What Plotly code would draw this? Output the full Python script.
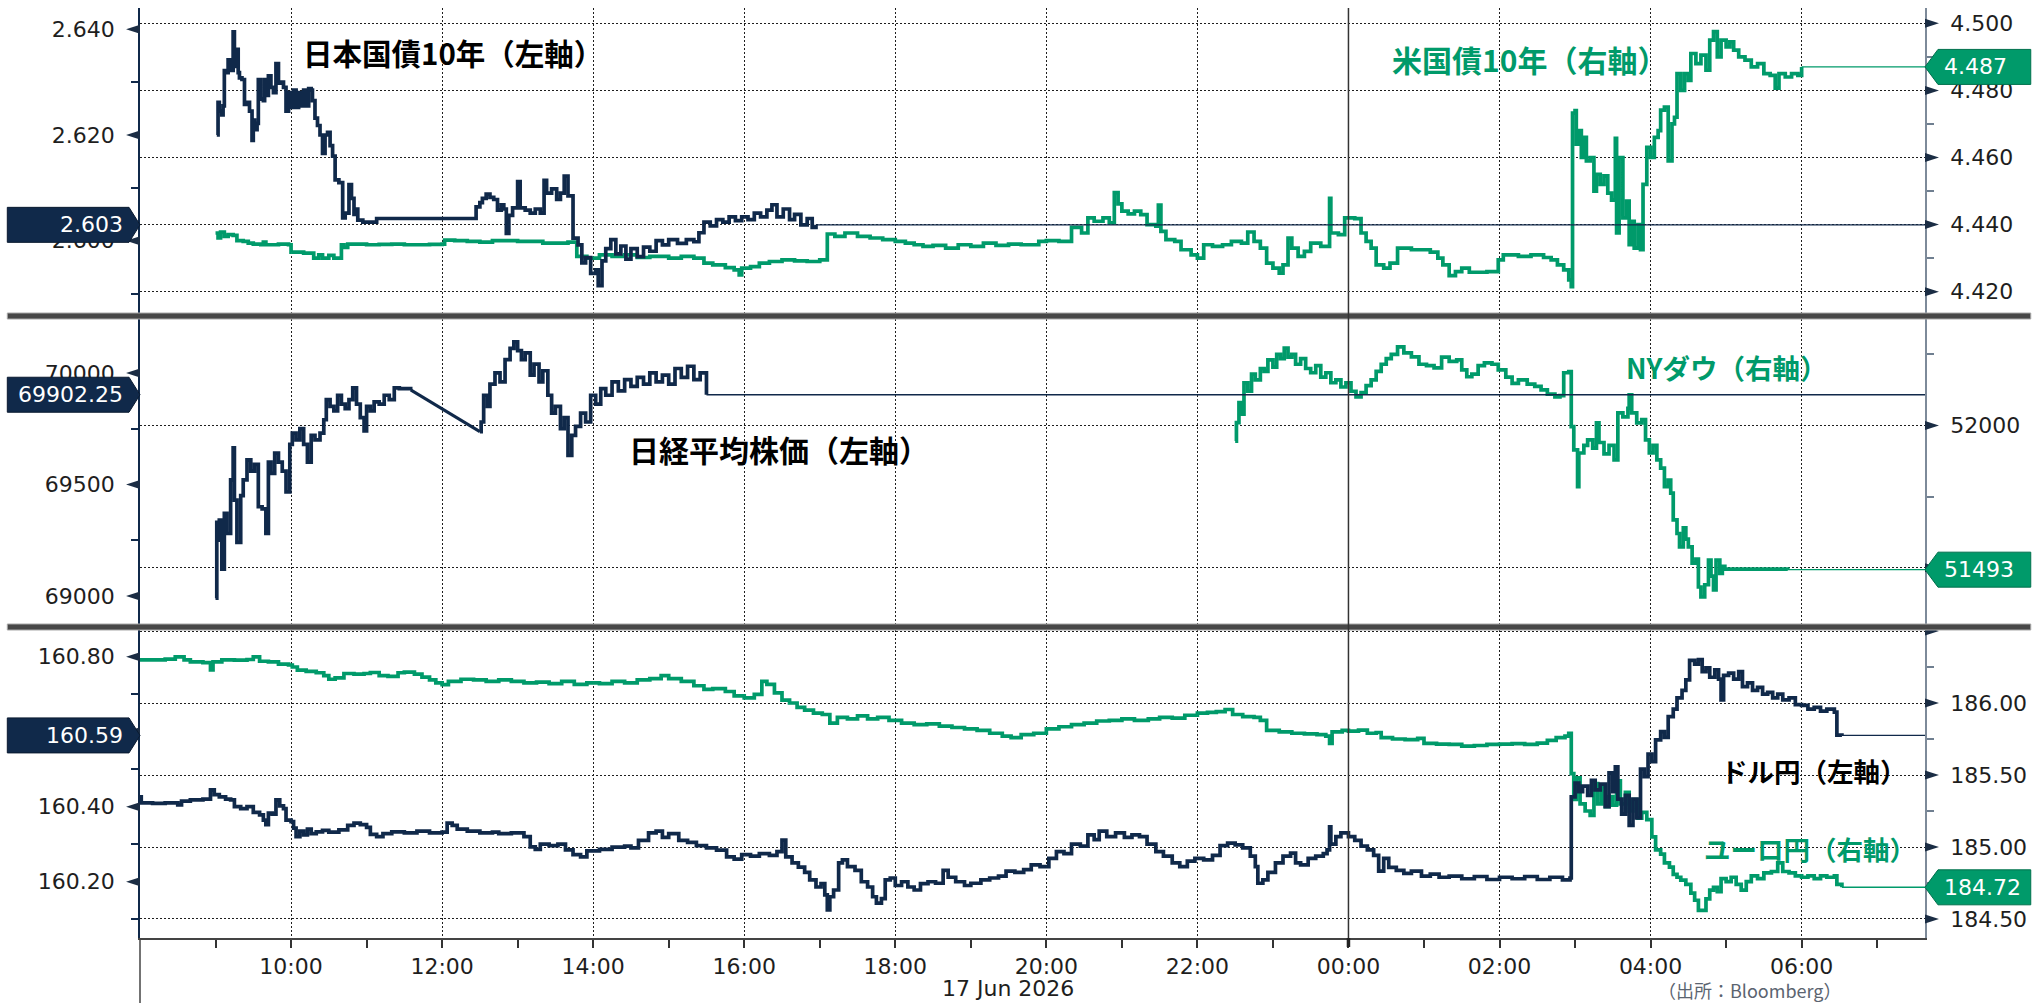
import plotly.graph_objects as go
from datetime import datetime, timedelta

# ---------------- data ----------------
JGB_TIME = [
 "09:01","09:02","09:03","09:05","09:06","09:07","09:09","09:10","09:12","09:14",
 "09:15","09:16","09:18","09:19","09:21","09:23","09:25","09:27","09:29","09:30",
 "09:31","09:33","09:34","09:36","09:38","09:39","09:41","09:42","09:44","09:46",
 "09:48","09:50","09:52","09:54","09:56","09:58","10:00","10:02","10:04","10:06",
 "10:08","10:10","10:12","10:14","10:16","10:17","10:19","10:21","10:23","10:25",
 "10:27","10:29","10:31","10:33","10:35","10:38","10:41","10:43","10:46","10:48",
 "10:50","10:52","10:53","10:57","11:08","12:25","12:27","12:30","12:32","12:35",
 "12:38","12:41","12:44","12:47","12:49","12:51","12:53","12:56","13:00","13:02",
 "13:06","13:10","13:14","13:18","13:21","13:23","13:27","13:31","13:34","13:37",
 "13:40","13:44","13:48","13:51","13:54","13:58","14:02","14:04","14:07","14:10",
 "14:14","14:18","14:22","14:26","14:30","14:35","14:40","14:45","14:50","14:55",
 "15:00","15:07","15:14","15:20","15:24","15:28","15:33","15:38","15:43","15:48",
 "15:53","15:58","16:03","16:08","16:13","16:18","16:22","16:26","16:31","16:36",
 "16:40","16:45","16:50","16:54","16:57"]
JGB_YIELD = [
 2.6200,2.6262,2.6245,2.6238,2.6255,2.6322,2.6318,2.6342,2.6322,2.6395,
 2.6330,2.6362,2.6318,2.6308,2.6305,2.6258,2.6262,2.6245,2.6190,2.6228,
 2.6210,2.6222,2.6305,2.6268,2.6265,2.6305,2.6275,2.6312,2.6290,2.6280,
 2.6335,2.6298,2.6300,2.6290,2.6245,2.6280,2.6252,2.6285,2.6252,2.6280,
 2.6255,2.6285,2.6255,2.6288,2.6285,2.6265,2.6232,2.6218,2.6200,2.6165,
 2.6200,2.6205,2.6180,2.6160,2.6115,2.6110,2.6043,2.6052,2.6106,2.6080,
 2.6050,2.6060,2.6039,2.6035,2.6042,2.6042,2.6064,2.6072,2.6080,2.6088,
 2.6082,2.6078,2.6058,2.6068,2.6060,2.6014,2.6048,2.6062,2.6112,2.6062,
 2.6058,2.6052,2.6060,2.6052,2.6114,2.6090,2.6098,2.6078,2.6090,2.6122,
 2.6085,2.6005,2.5992,2.5958,2.5968,2.5938,2.5945,2.5915,2.5962,2.5985,
 2.6002,2.5975,2.5990,2.5965,2.5985,2.5970,2.5988,2.5980,2.6000,2.5992,
 2.6002,2.5995,2.6002,2.5998,2.6015,2.6035,2.6028,2.6040,2.6035,2.6045,
 2.6038,2.6045,2.6040,2.6052,2.6045,2.6058,2.6068,2.6045,2.6060,2.6040,
 2.6050,2.6030,2.6042,2.6025,2.6030]

UST_TIME = [
 "09:00","09:02","09:04","09:07","09:10","09:14","09:17","09:22","09:26","09:30",
 "09:36","09:38","09:40","09:50","09:58","10:00","10:10","10:18","10:22","10:25",
 "10:30","10:34","10:40","10:42","10:45","10:52","11:00","11:10","11:20","11:30",
 "11:50","12:00","12:02","12:10","12:20","12:30","12:40","13:00","13:20","13:40",
 "13:47","13:55","14:05","14:15","14:25","14:35","14:45","15:00","15:10","15:20",
 "15:28","15:35","15:45","15:52","15:56","15:58","16:05","16:12","16:20","16:30",
 "16:40","16:50","17:00","17:06","17:12","17:20","17:30","17:40","17:50","18:00",
 "18:08","18:15","18:22","18:30","18:40","18:50","19:00","19:10","19:20","19:30",
 "19:40","19:54","20:00","20:10","20:20","20:28","20:33","20:38","20:45","20:50",
 "20:54","20:57","21:00","21:05","21:10","21:15","21:20","21:27","21:29","21:31",
 "21:35","21:42","21:47","21:55","22:00","22:05","22:12","22:20","22:27","22:35",
 "22:40","22:45","22:50","22:55","23:00","23:05","23:08","23:12","23:15","23:20",
 "23:25","23:30","23:38","23:45","23:46","23:52","23:57","00:05","00:10","00:14",
 "00:18","00:22","00:28","00:33","00:39","00:50","01:05","01:11","01:15","01:20",
 "01:25","01:30","01:36","01:50","01:59","02:03","02:15","02:25","02:35","02:41",
 "02:46","02:51","02:55","02:57","02:58","03:00","03:01","03:03","03:05","03:07",
 "03:09","03:12","03:15","03:17","03:20","03:23","03:26","03:29","03:32","03:33",
 "03:35","03:38","03:41","03:43","03:45","03:47","03:50","03:52","03:54","03:57",
 "04:00","04:03","04:06","04:08","04:11","04:14","04:17","04:19","04:21","04:24",
 "04:27","04:30","04:32","04:36","04:40","04:44","04:47","04:50","04:53","04:56",
 "05:00","05:03","05:06","05:10","05:15","05:20","05:25","05:30","05:35","05:39",
 "05:42","05:47","05:52","05:57","06:00"]
UST_YIELD = [
 4.4375,4.4360,4.4378,4.4365,4.4370,4.4368,4.4352,4.4350,4.4345,4.4342,
 4.4340,4.4348,4.4340,4.4342,4.4340,4.4318,4.4315,4.4300,4.4310,4.4300,
 4.4308,4.4300,4.4340,4.4332,4.4342,4.4342,4.4340,4.4341,4.4342,4.4340,
 4.4341,4.4342,4.4354,4.4352,4.4350,4.4348,4.4352,4.4350,4.4345,4.4348,
 4.4305,4.4300,4.4310,4.4305,4.4310,4.4302,4.4305,4.4300,4.4305,4.4300,
 4.4285,4.4280,4.4272,4.4265,4.4250,4.4270,4.4275,4.4285,4.4290,4.4295,
 4.4292,4.4290,4.4295,4.4372,4.4365,4.4375,4.4365,4.4360,4.4355,4.4350,
 4.4345,4.4340,4.4335,4.4338,4.4330,4.4340,4.4335,4.4345,4.4338,4.4342,
 4.4340,4.4350,4.4352,4.4350,4.4392,4.4375,4.4420,4.4410,4.4420,4.4405,
 4.4495,4.4462,4.4440,4.4432,4.4440,4.4430,4.4400,4.4395,4.4458,4.4380,
 4.4355,4.4350,4.4325,4.4310,4.4300,4.4340,4.4335,4.4340,4.4350,4.4345,
 4.4378,4.4350,4.4330,4.4285,4.4270,4.4255,4.4280,4.4360,4.4330,4.4305,
 4.4320,4.4345,4.4335,4.4478,4.4375,4.4370,4.4420,4.4418,4.4375,4.4350,
 4.4330,4.4280,4.4270,4.4285,4.4330,4.4325,4.4318,4.4300,4.4280,4.4248,
 4.4260,4.4270,4.4258,4.4260,4.4295,4.4310,4.4305,4.4310,4.4302,4.4295,
 4.4280,4.4265,4.4235,4.4215,4.4732,4.4740,4.4640,4.4680,4.4600,4.4660,
 4.4590,4.4600,4.4500,4.4550,4.4520,4.4545,4.4494,4.4473,4.4657,4.4375,
 4.4600,4.4420,4.4470,4.4340,4.4410,4.4330,4.4400,4.4325,4.4520,4.4630,
 4.4600,4.4660,4.4680,4.4741,4.4750,4.4590,4.4700,4.4720,4.4850,4.4800,
 4.4850,4.4830,4.4910,4.4880,4.4905,4.4860,4.4950,4.4975,4.4900,4.4950,
 4.4930,4.4945,4.4920,4.4900,4.4890,4.4870,4.4880,4.4850,4.4845,4.4807,
 4.4850,4.4840,4.4850,4.4845,4.4870]

NIKKEI_AM_TIME = [
 "09:00","09:01","09:02","09:03","09:05","09:07","09:09","09:12","09:14","09:15",
 "09:17","09:20","09:22","09:25","09:28","09:31","09:34","09:37","09:40","09:42",
 "09:44","09:47","09:50","09:53","09:56","09:59","10:01","10:04","10:07","10:10",
 "10:13","10:16","10:19","10:23","10:26","10:28","10:31","10:34","10:37","10:40",
 "10:43","10:46","10:49","10:52","10:55","10:58","11:00","11:03","11:06","11:10",
 "11:14","11:18","11:22","11:26","11:35"]
NIKKEI_AM = [
 68990,69330,69250,69340,69120,69370,69280,69520,69664,69430,
 69240,69450,69520,69610,69560,69590,69400,69390,69280,69600,
 69550,69640,69600,69560,69466,69680,69730,69700,69750,69680,
 69600,69720,69700,69730,69790,69880,69850,69830,69900,69860,
 69840,69880,69933,69860,69800,69740,69850,69830,69870,69860,
 69900,69880,69933,69930,69924]
NIKKEI_PM_TIME = [
 "12:30","12:31","12:33","12:36","12:38","12:42","12:46","12:50","12:54","12:57",
 "13:00","13:03","13:06","13:10","13:13","13:17","13:20","13:24","13:27","13:30",
 "13:34","13:37","13:40","13:43","13:46","13:50","13:54","13:58","14:02","14:06",
 "14:10","14:15","14:20","14:25","14:30","14:35","14:40","14:45","14:50","14:55",
 "15:00","15:05","15:10","15:15","15:20","15:25","15:30"]
NIKKEI_PM = [
 69737,69780,69900,69850,69950,70000,69960,70060,70110,70140,
 70100,70060,70090,69990,70040,69960,70010,69900,69820,69850,
 69750,69800,69630,69720,69760,69820,69780,69900,69860,69930,
 69900,69960,69920,69970,69940,69980,69950,70000,69960,69990,
 69950,70020,69980,70030,69970,70000,69902.25]

DOW_TIME = [
 "22:30","22:31","22:33","22:35","22:37","22:40","22:43","22:46","22:50","22:53",
 "22:56","23:00","23:03","23:06","23:09","23:12","23:15","23:18","23:22","23:26",
 "23:30","23:34","23:38","23:42","23:46","23:50","23:54","23:58","00:02","00:06",
 "00:10","00:14","00:18","00:22","00:26","00:30","00:34","00:39","00:44","00:50",
 "00:56","01:02","01:08","01:14","01:20","01:26","01:30","01:34","01:38","01:43",
 "01:48","01:54","01:59","02:05","02:10","02:15","02:22","02:28","02:33","02:38",
 "02:44","02:48","02:51","02:55","02:57","02:59","03:02","03:03","03:07","03:10",
 "03:14","03:17","03:19","03:23","03:27","03:31","03:34","03:38","03:42","03:43",
 "03:45","03:49","03:53","03:56","03:59","04:02","04:05","04:08","04:11","04:14",
 "04:16","04:18","04:21","04:23","04:26","04:28","04:30","04:33","04:36","04:38",
 "04:40","04:43","04:46","04:48","04:50","04:52","04:55","04:57","04:59","05:49"]
DOW = [
 51945,52010,52080,52040,52150,52120,52180,52160,52200,52190,
 52230,52205,52250,52235,52272,52240,52250,52215,52235,52200,
 52185,52210,52170,52185,52150,52160,52135,52150,52120,52100,
 52115,52140,52160,52190,52215,52235,52250,52276,52255,52241,
 52215,52210,52202,52240,52225,52230,52195,52171,52180,52210,
 52220,52215,52195,52170,52148,52160,52145,52137,52125,52110,
 52100,52105,52185,52189,51996,51914,51785,51903,51930,51949,
 51920,52009,51940,51900,51930,51879,52044,52030,52060,52107,
 52044,52009,52020,51949,51903,51930,51879,51850,51785,51808,
 51762,51668,51620,51573,51640,51600,51573,51516,51530,51432,
 51397,51440,51527,51470,51422,51527,51480,51505,51495,51493]

USDJPY_TIME = [
 "08:00","08:01","08:10","08:20","08:30","08:33","08:40","08:50","08:56","08:59",
 "09:03","09:08","09:12","09:15","09:20","09:25","09:30","09:35","09:38","09:40",
 "09:42","09:45","09:48","09:51","09:54","09:56","10:00","10:02","10:04","10:07",
 "10:10","10:13","10:16","10:20","10:25","10:30","10:38","10:45","10:50","10:55",
 "11:00","11:03","11:08","11:13","11:20","11:30","11:40","11:50","12:00","12:04",
 "12:08","12:12","12:20","12:30","12:40","12:45","12:55","13:05","13:10","13:14",
 "13:18","13:25","13:32","13:38","13:44","13:50","13:55","14:05","14:15","14:25",
 "14:30","14:36","14:44","14:50","14:55","15:00","15:08","15:15","15:22","15:30",
 "15:38","15:46","15:52","15:58","16:05","16:12","16:20","16:26","16:30","16:33",
 "16:38","16:43","16:48","16:52","16:57","17:01","17:04","17:06","17:08","17:11",
 "17:15","17:18","17:22","17:28","17:33","17:38","17:42","17:45","17:49","17:52",
 "17:56","18:00","18:05","18:10","18:15","18:20","18:26","18:32","18:38","18:42",
 "18:48","18:55","19:00","19:08","19:15","19:22","19:28","19:35","19:42","19:48",
 "19:55","20:02","20:08","20:14","20:20","20:27","20:33","20:38","20:42","20:48",
 "20:55","21:02","21:08","21:14","21:20","21:27","21:33","21:40","21:46","21:52",
 "21:58","22:05","22:12","22:18","22:24","22:30","22:36","22:42","22:46","22:48",
 "22:52","22:56","23:02","23:08","23:14","23:18","23:22","23:28","23:34","23:40",
 "23:43","23:45","23:46","23:50","23:54","00:00","00:05","00:10","00:15","00:20",
 "00:24","00:28","00:32","00:38","00:44","00:50","00:58","01:05","01:12","01:20",
 "01:30","01:40","01:50","02:00","02:10","02:20","02:30","02:40","02:50","02:56",
 "02:57","03:00","03:03","03:06","03:10","03:13","03:16","03:20","03:24","03:27",
 "03:30","03:32","03:34","03:37","03:40","03:43","03:46","03:49","03:52","03:55",
 "03:58","04:01","04:04","04:08","04:11","04:14","04:18","04:21","04:25","04:28",
 "04:31","04:35","04:38","04:41","04:44","04:47","04:51","04:54","04:56","04:58",
 "05:02","05:06","05:10","05:13","05:17","05:21","05:25","05:29","05:33","05:37",
 "05:41","05:45","05:50","05:55","06:00","06:05","06:10","06:15","06:20","06:26",
 "06:28","06:32"]
USDJPY = [
 160.426,160.410,160.409,160.410,160.405,160.415,160.418,160.420,160.445,160.432,
 160.426,160.420,160.418,160.400,160.395,160.400,160.385,160.378,160.364,160.352,
 160.383,160.380,160.418,160.402,160.395,160.364,160.360,160.343,160.320,160.335,
 160.325,160.340,160.328,160.333,160.337,160.332,160.338,160.350,160.356,160.352,
 160.345,160.326,160.320,160.328,160.333,160.330,160.335,160.330,160.332,160.356,
 160.350,160.340,160.335,160.330,160.332,160.328,160.330,160.320,160.293,160.286,
 160.300,160.296,160.300,160.285,160.272,160.266,160.282,160.286,160.292,160.295,
 160.290,160.310,160.330,160.335,160.318,160.328,160.310,160.305,160.296,160.290,
 160.284,160.266,160.260,160.272,160.268,160.275,160.270,160.280,160.311,160.266,
 160.250,160.239,160.225,160.205,160.186,160.195,160.165,160.125,160.160,160.178,
 160.250,160.258,160.240,160.230,160.200,160.186,160.160,160.143,160.155,160.205,
 160.210,160.190,160.200,160.186,160.178,160.195,160.200,160.196,160.230,160.212,
 160.200,160.190,160.196,160.205,160.210,160.215,160.228,160.225,160.232,160.245,
 160.240,160.262,160.280,160.275,160.300,160.295,160.325,160.312,160.335,160.320,
 160.330,160.318,160.325,160.320,160.300,160.280,160.268,160.250,160.240,160.255,
 160.262,160.258,160.270,160.296,160.303,160.298,160.290,160.268,160.240,160.196,
 160.205,160.225,160.250,160.268,160.276,160.250,160.245,160.262,160.268,160.275,
 160.285,160.346,160.300,160.320,160.330,160.320,160.310,160.295,160.285,160.270,
 160.228,160.262,160.238,160.230,160.222,160.228,160.215,160.220,160.212,160.215,
 160.208,160.214,160.206,160.212,160.208,160.214,160.206,160.212,160.205,160.210,
 160.426,160.463,160.440,160.455,160.430,160.470,160.445,160.460,160.400,160.490,
 160.440,160.506,160.420,160.380,160.430,160.350,160.420,160.370,160.500,160.480,
 160.540,160.520,160.578,160.600,160.585,160.640,160.660,160.690,160.710,160.738,
 160.790,160.780,160.792,160.760,160.770,160.745,160.765,160.740,160.685,160.750,
 160.756,160.740,160.760,160.720,160.730,160.710,160.718,160.700,160.705,160.690,
 160.700,160.685,160.690,160.672,160.670,160.660,160.665,160.655,160.660,160.652,
 160.591,160.590]

EURJPY_TIME = [
 "08:00","08:10","08:20","08:28","08:35","08:40","08:50","08:56","08:58","09:05",
 "09:15","09:25","09:30","09:35","09:42","09:50","09:58","10:01","10:05","10:12",
 "10:20","10:26","10:30","10:35","10:42","10:50","10:58","11:03","11:10","11:17",
 "11:25","11:30","11:38","11:44","11:50","11:55","12:00","12:05","12:15","12:25",
 "12:35","12:45","12:55","13:05","13:15","13:25","13:35","13:45","13:55","14:05",
 "14:15","14:25","14:35","14:45","14:54","15:00","15:10","15:20","15:28","15:35",
 "15:45","15:52","16:00","16:08","16:14","16:18","16:24","16:30","16:36","16:42",
 "16:48","16:55","17:02","17:08","17:14","17:22","17:30","17:38","17:46","17:55",
 "18:05","18:15","18:25","18:35","18:45","18:55","19:05","19:15","19:25","19:32",
 "19:40","19:50","20:00","20:10","20:20","20:30","20:40","20:50","21:00","21:10",
 "21:21","21:30","21:40","21:50","22:00","22:08","22:15","22:22","22:28","22:36",
 "22:45","22:50","22:55","23:05","23:15","23:25","23:35","23:42","23:45","23:47",
 "23:55","00:00","00:08","00:15","00:22","00:26","00:35","00:45","00:55","01:00",
 "01:10","01:20","01:30","01:40","01:50","02:00","02:10","02:20","02:30","02:38",
 "02:45","02:52","02:55","02:57","02:59","03:01","03:04","03:08","03:12","03:15",
 "03:18","03:21","03:24","03:27","03:30","03:33","03:36","03:40","03:43","03:46",
 "03:50","03:53","03:57","04:01","04:04","04:08","04:11","04:15","04:18","04:21",
 "04:24","04:28","04:32","04:35","04:38","04:42","04:44","04:47","04:50","04:53",
 "04:56","05:00","05:04","05:08","05:12","05:16","05:20","05:25","05:30","05:36",
 "05:41","05:45","05:50","05:55","06:00","06:05","06:10","06:15","06:20","06:26",
 "06:28","06:32"]
EURJPY = [
 186.299,186.300,186.305,186.320,186.300,186.285,186.280,186.230,186.285,186.300,
 186.298,186.302,186.320,186.290,186.285,186.270,186.264,186.250,186.229,186.220,
 186.210,186.190,186.165,186.175,186.205,186.200,186.205,186.212,186.190,186.185,
 186.210,186.215,186.200,186.180,186.160,186.140,186.128,186.150,186.165,186.160,
 186.150,186.160,186.150,186.140,186.145,186.135,186.150,186.130,186.140,186.135,
 186.150,186.140,186.160,186.170,186.190,186.170,186.150,186.120,186.095,186.100,
 186.080,186.050,186.035,186.060,186.150,186.130,186.070,186.020,186.000,185.970,
 185.950,185.930,185.920,185.860,185.900,185.890,185.910,185.890,185.900,185.880,
 185.860,185.850,185.855,185.840,185.830,185.820,185.810,185.790,185.770,185.760,
 185.780,185.790,185.820,185.835,185.850,185.860,185.875,185.880,185.890,185.880,
 185.890,185.900,185.895,185.915,185.930,185.935,185.940,185.955,185.920,185.905,
 185.900,185.880,185.810,185.800,185.790,185.785,185.780,185.770,185.720,185.800,
 185.810,185.805,185.812,185.790,185.795,185.760,185.750,185.745,185.755,185.720,
 185.715,185.712,185.700,185.705,185.712,185.715,185.718,185.712,185.722,185.740,
 185.760,185.770,185.790,185.510,185.330,185.480,185.300,185.250,185.220,185.440,
 185.300,185.420,185.280,185.350,185.290,185.460,185.300,185.380,185.250,185.330,
 185.200,185.240,185.190,185.070,184.980,184.950,184.890,184.860,184.810,184.790,
 184.770,184.740,184.680,184.630,184.560,184.560,184.640,184.700,184.720,184.690,
 184.780,184.760,184.790,184.740,184.700,184.760,184.800,184.780,184.820,184.830,
 184.890,184.830,184.820,184.800,184.790,184.800,184.780,184.800,184.790,184.800,
 184.740,184.720]

# tick values / labels (labels hidden behind the last-value boxes are left blank)
X_TICK_LABELS = ["10:00","12:00","14:00","16:00","18:00","20:00","22:00","00:00","02:00","04:00","06:00"]
X_MINOR_LABELS = ["09:00","11:00","13:00","15:00","17:00","19:00","21:00","23:00","01:00","03:00","05:00","07:00"]
UST_TICKS = [4.42, 4.44, 4.46, 4.48, 4.50]
UST_TICKTEXT = ["4.420", "4.440", "4.460", "4.480", "4.500"]
UST_MINOR = [4.43, 4.45, 4.47, 4.49]
JGB_TICKS = [2.60, 2.62, 2.64]
JGB_TICKTEXT = ["2.600", "2.620", "2.640"]
JGB_MINOR = [2.59, 2.61, 2.63]
DOW_TICKS = [51500, 52000]
DOW_TICKTEXT = ["", "52000"]
DOW_MINOR = [51750, 52250]
NK_TICKS = [69000, 69500, 70000]
NK_TICKTEXT = ["69000", "69500", "70000"]
NK_MINOR = [69250, 69750]
EUR_TICKS = [184.5, 185.0, 185.5, 186.0, 186.5]
EUR_TICKTEXT = ["184.50", "185.00", "185.50", "186.00", ""]
EUR_MINOR = [184.75, 185.25, 185.75, 186.25]
USD_TICKS = [160.2, 160.4, 160.6, 160.8]
USD_TICKTEXT = ["160.20", "160.40", "", "160.80"]
USD_MINOR = [160.1, 160.3, 160.5, 160.7]

LAST_LABELS = {"JGB": "2.603", "UST": "4.487", "NK": "69902.25",
               "DOW": "51493", "USD": "160.59", "EUR": "184.72"}

# ---------------- helpers ----------------
def to_dt(hhmm):
    h, m = int(hhmm[:2]), int(hhmm[3:])
    d = datetime(2026, 6, 17, h, m)
    if h < 8:
        d += timedelta(days=1)
    return d

def dts(lst):
    return [to_dt(s) for s in lst]

X_START = datetime(2026, 6, 17, 8, 0)
X_END = datetime(2026, 6, 18, 7, 38)

NAVY = "#10294a"
GREEN = "#009a6a"
GRID = "#1e1e1e"
TICKFONT = dict(family="DejaVu Sans", size=22, color="#1e1e1e")
JPFONT = "Noto Sans CJK JP"

W, H = 2035, 1007
L, R, T, B = 140, 1929, 8, 938
PW, PH = R - L, B - T

def fx(px):
    return (px - L) / PW

def fy(py):
    return (B - py) / PH

PANELS = {1: (8, 313), 2: (319, 624), 3: (630, 938)}
DOM = {k: [fy(b), fy(t)] for k, (t, b) in PANELS.items()}

RNG = {
    "UST": [4.41365, 4.50456], "JGB": [2.58632, 2.64403],
    "DOW": [51302, 52374], "NK": [68874, 70242],
    "EUR": [184.368, 186.507], "USD": [160.050, 160.871],
}

def v2py(v, key, panel):
    t, b = PANELS[panel]
    lo, hi = RNG[key]
    return t + (hi - v) / (hi - lo) * (b - t)

fig = go.Figure()

def add_series(xs, ys, yaxis, color, width=3.7, shape="hv"):
    fig.add_trace(go.Scatter(x=dts(xs), y=ys, yaxis=yaxis, mode="lines",
                             line=dict(color=color, width=width, shape=shape),
                             hoverinfo="skip", showlegend=False))

def add_last_line(t_last, v_last, yaxis, color):
    fig.add_trace(go.Scatter(x=[to_dt(t_last), X_END], y=[v_last, v_last], yaxis=yaxis,
                             mode="lines", line=dict(color=color, width=1.4),
                             hoverinfo="skip", showlegend=False))

# panel 1: UST (right, base y), JGB (left, y2)
add_series(UST_TIME, UST_YIELD, "y", GREEN)
add_last_line(UST_TIME[-1], UST_YIELD[-1], "y", GREEN)
add_last_line(JGB_TIME[-1], JGB_YIELD[-1], "y2", NAVY)
add_series(JGB_TIME, JGB_YIELD, "y2", NAVY)

# panel 2: Dow (right, y3), Nikkei (left, y4)
add_series(DOW_TIME, DOW, "y3", GREEN)
add_last_line(DOW_TIME[-1], DOW[-1], "y3", GREEN)
add_last_line(NIKKEI_PM_TIME[-1], NIKKEI_PM[-1], "y4", NAVY)
add_series(NIKKEI_AM_TIME, NIKKEI_AM, "y4", NAVY)
add_series([NIKKEI_AM_TIME[-1], NIKKEI_PM_TIME[0]], [NIKKEI_AM[-1], NIKKEI_PM[0]], "y4", NAVY,
           width=3, shape="linear")
add_series(NIKKEI_PM_TIME, NIKKEI_PM, "y4", NAVY)

# panel 3: EURJPY (right, y5), USDJPY (left, y6)
add_series(EURJPY_TIME, EURJPY, "y5", GREEN)
add_last_line(EURJPY_TIME[-1], EURJPY[-1], "y5", GREEN)
add_last_line(USDJPY_TIME[-1], USDJPY[-1], "y6", NAVY)
add_series(USDJPY_TIME, USDJPY, "y6", NAVY)

def yaxis_cfg(key, panel, side, tickvals, ticktext, minor, base=True, overlay=None):
    cfg = dict(range=RNG[key], side=side, anchor="x", zeroline=False,
               tickmode="array", tickvals=tickvals, ticktext=ticktext,
               ticks="outside", ticklen=14, tickcolor="rgba(0,0,0,0)",
               ticklabelstandoff=5, tickfont=TICKFONT, showline=True,
               linewidth=1.5, fixedrange=True,
               minor=dict(tickmode="array", tickvals=minor, ticks="outside", ticklen=7,
                          tickwidth=1.5, tickcolor=NAVY if side == "left" else "#6f7f90",
                          showgrid=False))
    cfg["linecolor"] = NAVY if side == "left" else "#7d8a99"
    if base:
        cfg.update(domain=DOM[panel], showgrid=True, gridcolor=GRID, griddash="2px,2px",
                   gridwidth=1.4)
    else:
        cfg.update(overlaying=overlay, showgrid=False)
    return cfg

x_tickvals = [to_dt(s) for s in X_TICK_LABELS]
x_minorvals = [to_dt(s) for s in X_MINOR_LABELS]

fig.update_layout(
    width=W, height=H,
    margin=dict(l=L, r=W - R, t=T, b=H - B),
    paper_bgcolor="white", plot_bgcolor="white",
    showlegend=False, hovermode=False,
    xaxis=dict(type="date", range=[X_START, X_END], anchor="y5", domain=[0, 1],
               tickmode="array", tickvals=x_tickvals, ticktext=X_TICK_LABELS,
               ticks="outside", ticklen=8, tickwidth=1.5, tickcolor="#333",
               showline=True, linecolor="#444", linewidth=1.5,
               showgrid=True, gridcolor=GRID, griddash="2px,2px", gridwidth=1.4,
               tickfont=TICKFONT, fixedrange=True,
               minor=dict(tickmode="array", tickvals=x_minorvals, ticks="outside",
                          ticklen=8, tickwidth=1.5, tickcolor="#333", showgrid=False)),
    yaxis=yaxis_cfg("UST", 1, "right", UST_TICKS, UST_TICKTEXT, UST_MINOR),
    yaxis2=yaxis_cfg("JGB", 1, "left", JGB_TICKS, JGB_TICKTEXT, JGB_MINOR, base=False, overlay="y"),
    yaxis3=yaxis_cfg("DOW", 2, "right", DOW_TICKS, DOW_TICKTEXT, DOW_MINOR),
    yaxis4=yaxis_cfg("NK", 2, "left", NK_TICKS, NK_TICKTEXT, NK_MINOR, base=False, overlay="y3"),
    yaxis5=yaxis_cfg("EUR", 3, "right", EUR_TICKS, EUR_TICKTEXT, EUR_MINOR),
    yaxis6=yaxis_cfg("USD", 3, "left", USD_TICKS, USD_TICKTEXT, USD_MINOR, base=False, overlay="y5"),
)

shapes = []
annotations = []

# tick arrows
def tick_arrows(key, panel, vals, side):
    for v in vals:
        py = v2py(v, key, panel)
        if side == "left":
            xa, xb = fx(L - 14), fx(L)
        else:
            xa, xb = fx(R + 14), fx(R)
        shapes.append(dict(type="path", xref="paper", yref="paper", layer="above",
                           path=f"M {xa},{fy(py)} L {xb},{fy(py - 4.5)} L {xb},{fy(py + 4.5)} Z",
                           fillcolor="#1b2d44", line=dict(width=0)))

tick_arrows("UST", 1, UST_TICKS, "right")
tick_arrows("JGB", 1, JGB_TICKS, "left")
tick_arrows("DOW", 2, DOW_TICKS, "right")
tick_arrows("NK", 2, NK_TICKS, "left")
tick_arrows("EUR", 3, EUR_TICKS, "right")
tick_arrows("USD", 3, USD_TICKS, "left")

# panel separators
for top, bot in [(313, 319), (624, 630)]:
    shapes.append(dict(type="rect", xref="paper", yref="paper", layer="above",
                       x0=fx(7), x1=fx(W), y0=fy(bot), y1=fy(top),
                       fillcolor="#474747", line=dict(color="#a8a8a8", width=1)))

# day break line
shapes.append(dict(type="line", xref="x", yref="paper", x0=to_dt("00:00"), x1=to_dt("00:00"),
                   y0=0, y1=1, line=dict(color="#333", width=1.5), layer="above"))
shapes.append(dict(type="line", xref="x", yref="paper", x0=to_dt("00:00"), x1=to_dt("00:00"),
                   y0=fy(938), y1=fy(947), line=dict(color="#222", width=3.5)))
# left axis extension below the time axis
shapes.append(dict(type="line", xref="paper", yref="paper", x0=0, x1=0,
                   y0=fy(938), y1=fy(1003), line=dict(color="#444", width=1.5)))

# last-value boxes
def left_box(text, value, key, panel):
    c = v2py(value, key, panel)
    h = 17.5
    shapes.append(dict(type="path", xref="paper", yref="paper", layer="above",
                       path=(f"M {fx(7)},{fy(c - h)} L {fx(129)},{fy(c - h)} L {fx(140)},{fy(c)} "
                             f"L {fx(129)},{fy(c + h)} L {fx(7)},{fy(c + h)} Z"),
                       fillcolor=NAVY, line=dict(color="#0a1a30", width=1)))
    annotations.append(dict(xref="paper", yref="paper", x=fx(125), y=fy(c), text=text,
                            showarrow=False, xanchor="right", yanchor="middle",
                            font=dict(family="DejaVu Sans", size=22, color="white")))

def right_box(text, value, key, panel):
    c = v2py(value, key, panel)
    h = 17.5
    shapes.append(dict(type="path", xref="paper", yref="paper", layer="above",
                       path=(f"M {fx(W)},{fy(c - h)} L {fx(1942)},{fy(c - h)} L {fx(1929)},{fy(c)} "
                             f"L {fx(1942)},{fy(c + h)} L {fx(W)},{fy(c + h)} Z"),
                       fillcolor=GREEN, line=dict(color="#00704c", width=1)))
    annotations.append(dict(xref="paper", yref="paper", x=fx(1946), y=fy(c), text=text,
                            showarrow=False, xanchor="left", yanchor="middle",
                            font=dict(family="DejaVu Sans", size=22, color="white")))

left_box(LAST_LABELS["JGB"], JGB_YIELD[-1], "JGB", 1)
left_box(LAST_LABELS["NK"], NIKKEI_PM[-1], "NK", 2)
left_box(LAST_LABELS["USD"], USDJPY[-1], "USD", 3)
right_box(LAST_LABELS["UST"], UST_YIELD[-1], "UST", 1)
right_box(LAST_LABELS["DOW"], DOW[-1], "DOW", 2)
right_box(LAST_LABELS["EUR"], EURJPY[-1], "EUR", 3)

# series labels
SERIES_LABELS = [
    ("日本国債10年（左軸）", 301, 52, "#000000", 29.5),
    ("米国債10年（右軸）", 1393, 59, GREEN, 30),
    ("日経平均株価（左軸）", 628, 449, "#000000", 30),
    ("NYダウ（右軸）", 1627, 367, GREEN, 27.5),
    ("ドル円（左軸）", 1723, 770, "#000000", 26.5),
    ("ユーロ円（右軸）", 1706, 848, GREEN, 26.5),
]
for text, px, py, col, size in SERIES_LABELS:
    annotations.append(dict(xref="paper", yref="paper", x=fx(px), y=fy(py),
                            text=f"<b>{text}</b>", showarrow=False,
                            xanchor="left", yanchor="middle",
                            font=dict(family=JPFONT, size=size, color=col)))

annotations.append(dict(xref="paper", yref="paper", x=fx(1010), y=fy(988), text="17 Jun 2026",
                        showarrow=False, xanchor="center", yanchor="middle",
                        font=dict(family="DejaVu Sans", size=22, color="#1e1e1e")))
annotations.append(dict(xref="paper", yref="paper", x=fx(1659), y=fy(990), text="（出所：Bloomberg）",
                        showarrow=False, xanchor="left", yanchor="middle",
                        font=dict(family=JPFONT, size=18, color="#5b6470")))

fig.update_layout(shapes=shapes, annotations=annotations)

fig.write_html("out.html", config={"displayModeBar": False},
               post_script="document.body.style.margin='0px';document.body.style.overflow='hidden';")
